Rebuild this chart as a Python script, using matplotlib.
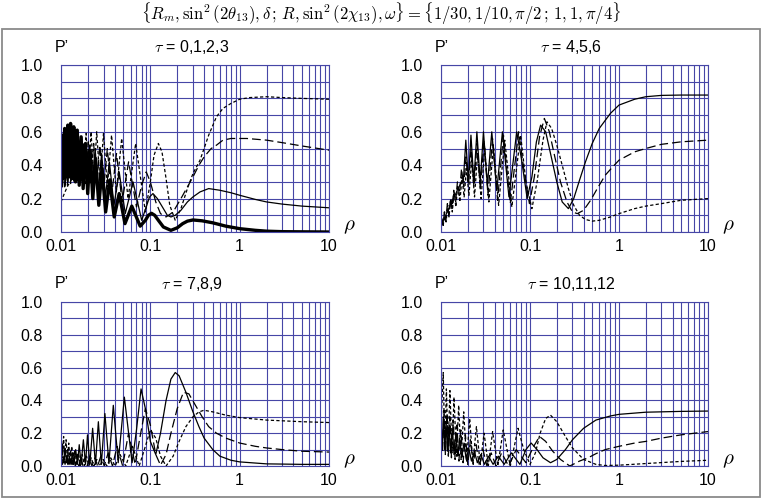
import matplotlib
matplotlib.use("Agg")
import matplotlib.pyplot as plt
from matplotlib.ticker import LogLocator, FixedLocator, NullFormatter, FixedFormatter
from matplotlib.patches import Rectangle

plt.rcParams['font.family'] = ['Liberation Sans', 'DejaVu Sans']
plt.rcParams['mathtext.fontset'] = 'cm'

# ---------------- data ----------------
tau_labels = ["0,1,2,3", "4,5,6", "7,8,9", "10,11,12"]
x_ticks = [0.01, 0.1, 1, 10]
x_ticklabels = ["0.01", "0.1", "1", "10"]
y_ticks = [0.0, 0.2, 0.4, 0.6, 0.8, 1.0]
y_ticklabels = ["0.0", "0.2", "0.4", "0.6", "0.8", "1.0"]

# panel 1 : tau = 0 (thick), 1 (thin), 2 (long dash), 3 (short dash)
p1_t0_rho = [0.0100, 0.0103, 0.01068, 0.0110, 0.01144, 0.0119, 0.01232, 0.0128, 0.01333, 0.0139,
             0.01453, 0.0152, 0.0160, 0.0168, 0.0177, 0.0188, 0.0199, 0.0212, 0.0227, 0.0244,
             0.0265, 0.0288, 0.0316, 0.0351, 0.0394, 0.0448, 0.052, 0.062, 0.077, 0.088,
             0.095, 0.103, 0.112, 0.125, 0.14, 0.17, 0.2, 0.23, 0.26, 0.30,
             0.38, 0.5, 0.7, 1.0, 1.5, 2.0, 3.0, 10.0]
p1_t0_P = [0.30, 0.58, 0.32, 0.62, 0.33, 0.64, 0.33, 0.65, 0.32, 0.63,
           0.30, 0.61, 0.28, 0.57, 0.26, 0.53, 0.23, 0.49, 0.20, 0.44,
           0.16, 0.38, 0.12, 0.31, 0.09, 0.23, 0.05, 0.155, 0.035, 0.07,
           0.10, 0.112, 0.10, 0.065, 0.03, 0.01, 0.025, 0.05, 0.065, 0.072,
           0.067, 0.055, 0.035, 0.02, 0.01, 0.005, 0.002, 0.0]

p1_t1_rho = [0.0100, 0.0104, 0.0108, 0.0112, 0.0116, 0.0120, 0.0125, 0.0130, 0.0136, 0.0142,
             0.0149, 0.0156, 0.0165, 0.0174, 0.0184, 0.0196, 0.0209, 0.0224, 0.0241, 0.0261,
             0.0285, 0.0314, 0.0348, 0.0392, 0.0448, 0.0524, 0.064, 0.08, 0.09, 0.098,
             0.107, 0.12, 0.14, 0.155, 0.17, 0.19, 0.22, 0.26, 0.3, 0.36,
             0.45, 0.6, 0.8, 1.0, 1.5, 2.0, 3.0, 5.0, 10.0]
p1_t1_P = [0.40, 0.27, 0.50, 0.28, 0.52, 0.30, 0.54, 0.31, 0.55, 0.32,
           0.55, 0.32, 0.54, 0.31, 0.53, 0.30, 0.52, 0.28, 0.50, 0.25,
           0.47, 0.21, 0.42, 0.16, 0.36, 0.11, 0.30, 0.07, 0.15, 0.21,
           0.23, 0.20, 0.14, 0.10, 0.09, 0.10, 0.13, 0.18, 0.21, 0.24,
           0.26, 0.25, 0.235, 0.22, 0.195, 0.18, 0.167, 0.155, 0.145]

p1_t2_rho = [0.0100, 0.0106, 0.0110, 0.0114, 0.0118, 0.0123, 0.0128, 0.0133, 0.0139, 0.0146,
             0.0153, 0.0161, 0.0169, 0.0179, 0.0190, 0.0202, 0.0216, 0.0232, 0.0251, 0.0272,
             0.0299, 0.0330, 0.0369, 0.0418, 0.0483, 0.0571, 0.070, 0.080, 0.090, 0.100,
             0.115, 0.13, 0.15, 0.18, 0.22, 0.26, 0.30, 0.35, 0.40, 0.48,
             0.55, 0.65, 0.8, 1.2, 2.0, 3.0, 5.0, 10.0]
p1_t2_P = [0.30, 0.38, 0.27, 0.41, 0.28, 0.44, 0.29, 0.47, 0.30, 0.50,
           0.30, 0.52, 0.30, 0.54, 0.29, 0.54, 0.28, 0.53, 0.27, 0.52,
           0.25, 0.50, 0.22, 0.47, 0.18, 0.42, 0.15, 0.28, 0.36, 0.30,
           0.18, 0.11, 0.09, 0.12, 0.20, 0.27, 0.33, 0.40, 0.45, 0.50,
           0.52, 0.55, 0.56, 0.56, 0.55, 0.535, 0.515, 0.49]

p1_t3_rho = [0.0100, 0.0107, 0.0113, 0.0120, 0.0127, 0.0135, 0.0143,
             0.0148, 0.0154, 0.0162, 0.0170, 0.0180, 0.0191, 0.0203, 0.0217, 0.0233, 0.0251,
             0.0273, 0.0299, 0.0330, 0.0368, 0.0416, 0.0478, 0.0563, 0.0685, 0.088, 0.100,
             0.110, 0.123, 0.135, 0.15, 0.165, 0.19, 0.22, 0.26, 0.30, 0.36,
             0.45, 0.55, 0.65, 0.8, 1.0, 1.3, 2.0, 3.0, 5.0, 10.0]
p1_t3_P = [0.18, 0.22, 0.25, 0.28, 0.30, 0.34, 0.45,
           0.34, 0.52, 0.34, 0.57, 0.33, 0.59, 0.32, 0.60, 0.31, 0.60,
           0.30, 0.59, 0.27, 0.58, 0.24, 0.56, 0.20, 0.53, 0.12, 0.30,
           0.46, 0.53, 0.48, 0.32, 0.16, 0.07, 0.14, 0.26, 0.35, 0.43,
           0.58, 0.69, 0.74, 0.77, 0.795, 0.805, 0.81, 0.805, 0.80, 0.795]

# panel 2 : tau = 4 (solid), 5 (long dash), 6 (short dash)
p2_t4_rho = [0.0100, 0.0105, 0.0110, 0.0115, 0.0120, 0.0127, 0.0133, 0.0140, 0.0147, 0.0155,
             0.0163, 0.0172, 0.0178, 0.0190, 0.0203, 0.0217, 0.0234, 0.0253, 0.0276, 0.0300,
             0.0332, 0.0372, 0.0424, 0.049, 0.058, 0.0709, 0.080, 0.093, 0.105, 0.118,
             0.1316, 0.15, 0.17, 0.20, 0.23, 0.27, 0.31, 0.36, 0.42, 0.50,
             0.60, 0.80, 1.0, 1.5, 2.0, 3.0, 5.0, 10.0]
p2_t4_P = [0.03, 0.06, 0.08, 0.11, 0.13, 0.16, 0.18, 0.21, 0.23, 0.26,
           0.28, 0.31, 0.30, 0.55, 0.30, 0.58, 0.30, 0.60, 0.30, 0.60,
           0.28, 0.60, 0.25, 0.60, 0.21, 0.60, 0.44, 0.20, 0.33, 0.54,
           0.64, 0.60, 0.47, 0.30, 0.18, 0.14, 0.20, 0.31, 0.42, 0.53,
           0.62, 0.71, 0.76, 0.795, 0.81, 0.818, 0.82, 0.82]

p2_t5_rho = [0.0100, 0.0102, 0.0106, 0.0109, 0.0113, 0.0118, 0.0122, 0.0128, 0.0133, 0.0139,
             0.0146, 0.0153, 0.0161, 0.0170, 0.0180, 0.0191, 0.0203, 0.0218, 0.0234, 0.0254,
             0.0277, 0.0304, 0.0337, 0.0379, 0.0432, 0.0503, 0.060, 0.0746, 0.085, 0.0985,
             0.112, 0.128, 0.145, 0.165, 0.19, 0.22, 0.26, 0.30, 0.34, 0.40,
             0.48, 0.57, 0.70, 0.85, 1.0, 1.5, 2.0, 3.0, 5.0, 10.0]
p2_t5_P = [0.00, 0.08, 0.04, 0.12, 0.07, 0.17, 0.10, 0.20, 0.14, 0.25,
           0.18, 0.30, 0.22, 0.38, 0.27, 0.45, 0.28, 0.50, 0.27, 0.53,
           0.25, 0.55, 0.22, 0.56, 0.19, 0.58, 0.17, 0.60, 0.38, 0.17,
           0.33, 0.57, 0.68, 0.60, 0.45, 0.30, 0.18, 0.12, 0.11, 0.13,
           0.19, 0.26, 0.34, 0.39, 0.43, 0.48, 0.50, 0.525, 0.54, 0.55]

p2_t6_rho = [0.0100, 0.0103, 0.0106, 0.0110, 0.0114, 0.0119, 0.0123, 0.0129, 0.0134, 0.0140,
             0.0147, 0.0154, 0.0163, 0.0172, 0.0182, 0.0193, 0.0206, 0.0221, 0.0238, 0.0258,
             0.0282, 0.0310, 0.0345, 0.0388, 0.0444, 0.052, 0.0625, 0.0784, 0.090, 0.105,
             0.120, 0.140, 0.155, 0.175, 0.20, 0.23, 0.27, 0.31, 0.36, 0.42,
             0.50, 0.60, 0.80, 1.0, 1.5, 2.0, 3.0, 5.0, 10.0]
p2_t6_P = [0.02, 0.08, 0.04, 0.12, 0.06, 0.16, 0.09, 0.20, 0.12, 0.24,
           0.15, 0.28, 0.18, 0.33, 0.21, 0.38, 0.22, 0.43, 0.21, 0.47,
           0.20, 0.50, 0.18, 0.52, 0.16, 0.55, 0.15, 0.58, 0.30, 0.14,
           0.30, 0.55, 0.66, 0.62, 0.52, 0.40, 0.26, 0.16, 0.10, 0.075,
           0.065, 0.07, 0.09, 0.11, 0.14, 0.155, 0.17, 0.19, 0.20]

# panel 3 : tau = 7 (solid), 8 (long dash), 9 (short dash)
p3_t7_rho = [0.0100, 0.0104, 0.0107, 0.0111, 0.0115, 0.0119, 0.0124, 0.0129, 0.0134, 0.0140,
             0.0146, 0.0153, 0.0160, 0.0168, 0.0178, 0.0188, 0.0198, 0.0210, 0.0226, 0.0243,
             0.0262, 0.0283, 0.0310, 0.0344, 0.0385, 0.0437, 0.0512, 0.0625, 0.070, 0.0787,
             0.088, 0.100, 0.115, 0.13, 0.15, 0.17, 0.19, 0.21, 0.25, 0.30,
             0.35, 0.40, 0.50, 0.60, 0.80, 1.0, 2.0, 5.0, 10.0]
p3_t7_P = [0.04, 0.01, 0.05, 0.01, 0.05, 0.01, 0.06, 0.01, 0.08, 0.01,
           0.10, 0.01, 0.13, 0.01, 0.16, 0.01, 0.19, 0.01, 0.23, 0.01,
           0.27, 0.01, 0.32, 0.015, 0.37, 0.02, 0.42, 0.02, 0.22, 0.47,
           0.35, 0.15, 0.07, 0.20, 0.40, 0.53, 0.57, 0.55, 0.45, 0.33,
           0.24, 0.17, 0.10, 0.06, 0.035, 0.025, 0.013, 0.01, 0.01]

p3_t8_rho = [0.0100, 0.0102, 0.0104, 0.0107, 0.0111, 0.0115, 0.0119, 0.0123, 0.0128, 0.0133,
             0.0139, 0.0145, 0.0152, 0.0159, 0.0167, 0.0176, 0.0185, 0.0196, 0.0208, 0.0222,
             0.0239, 0.0257, 0.0279, 0.0305, 0.0337, 0.0377, 0.0424, 0.049, 0.057, 0.0676,
             0.078, 0.088, 0.100, 0.115, 0.13, 0.15, 0.17, 0.20, 0.235, 0.27,
             0.32, 0.38, 0.45, 0.55, 0.70, 1.0, 1.5, 2.0, 3.0, 5.0, 10.0]
p3_t8_P = [0.15, 0.03, 0.14, 0.02, 0.12, 0.02, 0.10, 0.01, 0.09, 0.01,
           0.08, 0.00, 0.07, 0.00, 0.06, 0.00, 0.05, 0.00, 0.05, 0.00,
           0.05, 0.00, 0.06, 0.00, 0.08, 0.00, 0.12, 0.00, 0.20, 0.01,
           0.20, 0.35, 0.25, 0.07, 0.005, 0.07, 0.20, 0.35, 0.45, 0.44,
           0.37, 0.30, 0.24, 0.20, 0.17, 0.14, 0.12, 0.11, 0.10, 0.09, 0.085]

p3_t9_rho = [0.0100, 0.0103, 0.0107, 0.0110, 0.0114, 0.0118, 0.0122, 0.0127, 0.0132, 0.0137,
             0.0143, 0.0150, 0.0157, 0.0165, 0.0173, 0.0183, 0.0193, 0.0205, 0.0218, 0.0233,
             0.0251, 0.0272, 0.0296, 0.0326, 0.0360, 0.0404, 0.0458, 0.053, 0.063, 0.075,
             0.088, 0.100, 0.115, 0.13, 0.15, 0.18, 0.21, 0.25, 0.30, 0.35,
             0.40, 0.50, 0.70, 1.0, 2.0, 5.0, 10.0]
p3_t9_P = [0.20, 0.05, 0.18, 0.04, 0.16, 0.03, 0.14, 0.02, 0.12, 0.01,
           0.10, 0.01, 0.08, 0.00, 0.07, 0.00, 0.06, 0.00, 0.05, 0.00,
           0.04, 0.00, 0.04, 0.00, 0.05, 0.00, 0.07, 0.00, 0.12, 0.00,
           0.12, 0.22, 0.17, 0.06, 0.00, 0.06, 0.15, 0.24, 0.30, 0.33,
           0.34, 0.33, 0.31, 0.295, 0.28, 0.27, 0.265]

# panel 4 : tau = 10 (solid), 11 (long dash), 12 (short dash)
p4_t10_rho = [0.0100, 0.0103, 0.0106, 0.0110, 0.0114, 0.0118, 0.0123, 0.0128, 0.0134, 0.0140,
              0.0147, 0.0154, 0.0162, 0.0171, 0.0181, 0.0192, 0.0205, 0.0220, 0.0237, 0.0256,
              0.0280, 0.0308, 0.0342, 0.0385, 0.044, 0.0513, 0.0617, 0.077, 0.090, 0.103,
              0.12, 0.14, 0.17, 0.20, 0.25, 0.30, 0.40, 0.55, 0.80, 1.0,
              2.0, 5.0, 10.0]
p4_t10_P = [0.20, 0.10, 0.30, 0.10, 0.27, 0.09, 0.25, 0.08, 0.23, 0.07,
            0.20, 0.06, 0.17, 0.05, 0.14, 0.04, 0.11, 0.03, 0.09, 0.02,
            0.07, 0.01, 0.06, 0.01, 0.06, 0.01, 0.08, 0.01, 0.10, 0.14,
            0.10, 0.05, 0.02, 0.04, 0.10, 0.16, 0.23, 0.28, 0.305, 0.315,
            0.328, 0.333, 0.335]

p4_t11_rho = [0.0100, 0.0104, 0.0108, 0.0112, 0.0117, 0.0121, 0.0126, 0.0131, 0.0137, 0.0144,
              0.0151, 0.0159, 0.0167, 0.0177, 0.0188, 0.0200, 0.0214, 0.0230, 0.0248, 0.0270,
              0.0296, 0.0328, 0.0366, 0.0415, 0.048, 0.0575, 0.070, 0.090, 0.110, 0.128,
              0.15, 0.18, 0.22, 0.28, 0.36, 0.45, 0.55, 0.70, 1.0, 1.5,
              2.0, 3.0, 5.0, 10.0]
p4_t11_P = [0.30, 0.08, 0.34, 0.07, 0.32, 0.06, 0.30, 0.05, 0.28, 0.04,
            0.25, 0.03, 0.22, 0.02, 0.19, 0.01, 0.16, 0.01, 0.13, 0.00,
            0.10, 0.00, 0.08, 0.00, 0.08, 0.00, 0.10, 0.02, 0.12, 0.18,
            0.15, 0.09, 0.04, 0.00, 0.03, 0.05, 0.075, 0.10, 0.12, 0.14,
            0.15, 0.17, 0.19, 0.21]

p4_t12_rho = [0.0100, 0.0106, 0.0110, 0.0115, 0.0120, 0.0126, 0.0133, 0.0140, 0.0149, 0.0158,
              0.0168, 0.0180, 0.0194, 0.0210, 0.0228, 0.0250, 0.0276, 0.0305, 0.0340, 0.0380,
              0.0435, 0.050, 0.060, 0.0734, 0.085, 0.100, 0.115, 0.13, 0.15, 0.17,
              0.20, 0.25, 0.30, 0.40, 0.55, 0.70, 1.0, 2.0, 5.0, 10.0]
p4_t12_P = [0.25, 0.57, 0.12, 0.47, 0.10, 0.46, 0.08, 0.42, 0.06, 0.37,
            0.04, 0.33, 0.03, 0.29, 0.02, 0.24, 0.01, 0.20, 0.00, 0.21,
            0.00, 0.22, 0.00, 0.23, 0.10, 0.01, 0.08, 0.20, 0.29, 0.31,
            0.27, 0.18, 0.11, 0.04, 0.01, 0.003, 0.005, 0.015, 0.028, 0.035]

# ---------------- styles ----------------
THICK = dict(color='black', lw=2.4, ls='-')
THIN = dict(color='black', lw=0.9, ls='-')
LONG = dict(color='black', lw=0.9, dashes=(7.0, 3.2))
SHORT = dict(color='black', lw=0.9, dashes=(2.6, 1.8))

panels = [
    [(p1_t0_rho, p1_t0_P, THICK), (p1_t1_rho, p1_t1_P, THIN),
     (p1_t2_rho, p1_t2_P, LONG), (p1_t3_rho, p1_t3_P, SHORT)],
    [(p2_t4_rho, p2_t4_P, THIN), (p2_t5_rho, p2_t5_P, LONG), (p2_t6_rho, p2_t6_P, SHORT)],
    [(p3_t7_rho, p3_t7_P, THIN), (p3_t8_rho, p3_t8_P, LONG), (p3_t9_rho, p3_t9_P, SHORT)],
    [(p4_t10_rho, p4_t10_P, THIN), (p4_t11_rho, p4_t11_P, LONG), (p4_t12_rho, p4_t12_P, SHORT)],
]

W, H = 763, 501
fig = plt.figure(figsize=(W / 100, H / 100), dpi=100)

# axes boxes in pixels: (left, top, right, bottom)
boxes = [(61, 65, 329, 232), (441, 65, 708, 232), (61, 302, 329, 466), (441, 302, 708, 466)]
GRID = '#4646a6'

for i, (l, t, r, b) in enumerate(boxes):
    ax = fig.add_axes([l / W, 1 - b / H, (r - l) / W, (b - t) / H])
    ax.set_xscale('log')
    ax.set_xlim(0.01, 10)
    ax.set_ylim(0, 1)
    ax.xaxis.set_major_locator(FixedLocator(x_ticks))
    ax.xaxis.set_major_formatter(FixedFormatter(x_ticklabels))
    ax.xaxis.set_minor_locator(LogLocator(base=10, subs=[2, 3, 4, 5, 6, 7, 8, 9]))
    ax.xaxis.set_minor_formatter(NullFormatter())
    ax.yaxis.set_major_locator(FixedLocator(y_ticks))
    ax.yaxis.set_major_formatter(FixedFormatter(y_ticklabels))
    ax.yaxis.set_minor_locator(FixedLocator([0.1, 0.3, 0.5, 0.7, 0.9]))
    ax.grid(True, which='both', color=GRID, lw=0.8)
    ax.set_axisbelow(True)
    for sp in ax.spines.values():
        sp.set_color(GRID)
        sp.set_linewidth(0.8)
    ax.tick_params(which='both', length=0, labelsize=11.5, colors='black')
    ax.tick_params(axis='y', pad=13)
    ax.tick_params(axis='x', pad=5)
    for rho, P, st in panels[i]:
        ax.plot(rho, P, solid_capstyle='butt', dash_capstyle='butt', **st)
    # labels
    fig.text((l - 6) / W, 1 - (t - 18) / H, "P\u2019", fontsize=11.5, ha='left', va='center')
    fig.text(((l + r) / 2 - 3) / W, 1 - (t - 18) / H, r"$\tau$ = " + tau_labels[i],
             fontsize=11.5, ha='center', va='center')
    fig.text((r + 20) / W, 1 - (b - 5) / H, r"$\rho$", fontsize=15, ha='center', va='center')

fig.text(0.5, 1 - 14 / H,
         r"$\{R_m, \sin^2(2\theta_{13}), \delta\,;\, R, \sin^2(2\chi_{13}), \omega\}"
         r" = \{1/30, 1/10, \pi/2\,;\, 1, 1, \pi/4\}$",
         fontsize=12, ha='center', va='center')

fig.patches.append(Rectangle((2 / W, 1 - 497 / H), 758 / W, 468 / H, transform=fig.transFigure,
                             fill=False, edgecolor='#8a8a8a', lw=1.3))

fig.savefig("out.png", dpi=100)
